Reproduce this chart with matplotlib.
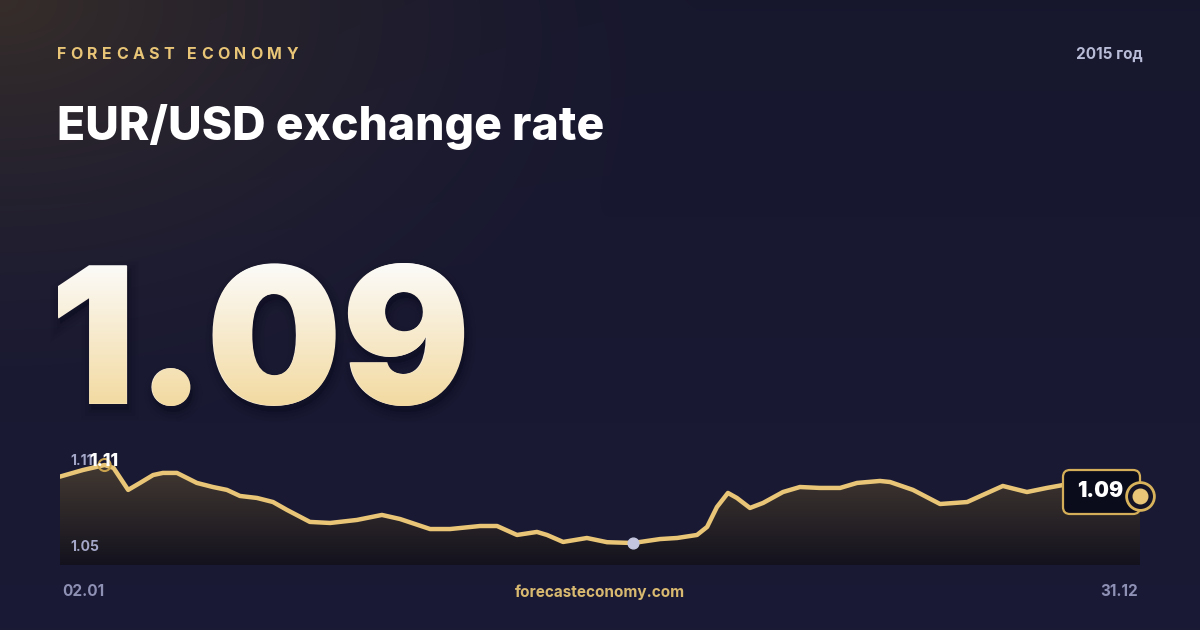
import numpy as np
import matplotlib
matplotlib.use("Agg")
from matplotlib import pyplot as plt
from matplotlib.textpath import TextPath
from matplotlib.font_manager import FontProperties
from matplotlib.patches import PathPatch, FancyBboxPatch
from matplotlib.transforms import Affine2D

# day of year (2015) and EUR/USD value
days = [2, 9.7, 17.0, 20.0, 24.9, 28.9, 33.3, 36.6, 41.3, 48.0, 53.4, 58.1, 62.5,
        68.2, 73.6, 78.3, 86.0, 92.8, 101.8, 110.2, 116.3, 126.4, 133.1, 143.2,
        148.9, 155.6, 162.3, 165.7, 171.1, 179.1, 185.9, 194.6, 203.7, 209.4,
        216.1, 219.5, 222.8, 226.5, 229.5, 233.9, 238.3, 245.0, 250.7, 257.4,
        264.2, 269.9, 277.6, 281.0, 288.7, 297.8, 306.9, 312.2, 318.9, 327.0,
        333.7, 339.1, 351.6, 365]
rates = [1.1004, 1.1054, 1.1092, 1.1070, 1.0903, 1.0956, 1.1016, 1.1032, 1.1032,
         1.0956, 1.0925, 1.0903, 1.0857, 1.0842, 1.0811, 1.0751, 1.0660, 1.0652,
         1.0675, 1.0713, 1.0682, 1.0606, 1.0606, 1.0629, 1.0629, 1.0561, 1.0584,
         1.0561, 1.0508, 1.0538, 1.0506, 1.0500, 1.0530, 1.0538, 1.0561, 1.0622,
         1.0773, 1.0880, 1.0842, 1.0766, 1.0804, 1.0887, 1.0925, 1.0918, 1.0918,
         1.0956, 1.0971, 1.0963, 1.0903, 1.0796, 1.0811, 1.0865, 1.0933, 1.0887,
         1.0918, 1.0940, 1.0925, 1.0857]

brand = "FORECAST ECONOMY"
title = "EUR/USD exchange rate"
year_label = "2015 год"
current = "1.09"
hi_label, lo_label = "1.11", "1.05"
start_label, end_label = "02.01", "31.12"
site = "forecasteconomy.com"

GOLD = "#e9c677"
W, H = 1200, 630

fig = plt.figure(figsize=(12, 6.3), dpi=100)
renderer = fig.canvas.get_renderer()

# background with warm glow in the top-left corner
bg = fig.add_axes([0, 0, 1, 1])
bg.set_xlim(0, W)
bg.set_ylim(H, 0)
bg.axis("off")
yy, xx = np.mgrid[0:H, 0:W]
r = np.sqrt(xx ** 2 + (yy * 1.6) ** 2)
g = np.clip(1 - r / 700, 0, 1) ** 1.6
base = np.array([0.090, 0.090, 0.180])
glow = np.array([0.215, 0.180, 0.165])
img = base[None, None, :] * (1 - g[..., None]) + glow[None, None, :] * g[..., None]
img += (yy[..., None] / H) * np.array([0.012, 0.012, 0.03])
bg.imshow(img, extent=[0, W, H, 0], aspect="auto", zorder=0)

# header: tracked-out brand name
x = 57
for ch in brand:
    t = bg.text(x, 59, ch, color=GOLD, fontsize=11.5, fontweight="bold",
                family="Inter", va="baseline", ha="left")
    w = t.get_window_extent(renderer).width if ch != " " else 4
    x += w + 4.4
bg.text(1143, 54, year_label, color="#b9bcd6", fontsize=11, fontweight="bold",
        family="Inter", va="center", ha="right")
bg.text(57, 140, title, color="white", fontsize=33.3, fontweight="heavy",
        family="Inter", va="baseline", ha="left")

# big number: real text, with a gradient image clipped to the same glyphs on top
fp = FontProperties(family="Inter", weight="black")
tp = TextPath((0, 0), current, size=1, prop=fp)
ext = tp.get_extents()
s = 143 / ext.height                       # pixels per em
pen_x = 58 - ext.x0 * s
base_y = 406 + ext.y0 * s
tr = Affine2D().scale(s, -s).translate(pen_x, base_y)
for lw, a in [(14, 0.06), (9, 0.08), (4, 0.12)]:
    sh = PathPatch(tp, transform=tr + Affine2D().translate(2, 6) + bg.transData,
                   facecolor="#08081a", edgecolor="#08081a", lw=lw, alpha=a, zorder=1)
    bg.add_patch(sh)
bg.text(pen_x, base_y, current, color="#f7eddb", fontsize=s * 0.72,
        fontproperties=fp, va="baseline", ha="left", zorder=2)
big = PathPatch(tp, transform=tr + bg.transData, facecolor="none", edgecolor="none")
bg.add_patch(big)
grad = np.linspace(0, 1, 256)[:, None]
top_c = np.array([0.99, 0.99, 0.99])
bot_c = np.array([0.95, 0.85, 0.62])
gimg = top_c * (1 - grad[..., None]) + bot_c * grad[..., None]
gi = bg.imshow(np.repeat(gimg, 2, axis=1), extent=[40, 500, 410, 258],
               aspect="auto", zorder=3)
gi.set_clip_path(big)

# footer
bg.text(62, 592, start_label, color="#8e90b4", fontsize=11, fontweight="bold",
        family="Inter", va="center", ha="left")
bg.text(1138, 592, end_label, color="#8e90b4", fontsize=11, fontweight="bold",
        family="Inter", va="center", ha="right")
bg.text(600, 592, site, color="#d8b96f", fontsize=11, fontweight="bold",
        family="Inter", va="center", ha="center")

# sparkline
ax = fig.add_axes([60 / W, (H - 565) / H, 1080 / W, 110 / H])
ax.set_xlim(2, 365)
ax.set_ylim(1.0333, 1.1168)
ax.axis("off")
ax.patch.set_alpha(0)
poly = ax.fill_between(days, rates, 1.0333, color="none", lw=0)
fgrad = np.linspace(0, 1, 256)[:, None]
ftop = np.array([0.27, 0.23, 0.20])
fbot = np.array([0.075, 0.07, 0.115])
fimg = ftop * (1 - fgrad[..., None]) + fbot * fgrad[..., None]
fi = ax.imshow(np.repeat(fimg, 2, axis=1), extent=[2, 365, 1.0333, 1.112],
               aspect="auto", zorder=1)
fi.set_clip_path(poly.get_paths()[0], ax.transData)
ax.plot(days, rates, color=GOLD, lw=3.2, zorder=3, solid_capstyle="round",
        solid_joinstyle="round")

i_max = int(np.argmax(rates))
i_min = int(np.argmin(rates))
ax.scatter([days[i_max]], [rates[i_max]], s=75, facecolor="none",
           edgecolor="#c9a24e", lw=1.5, zorder=4)
ax.scatter([days[i_min]], [rates[i_min]], s=60, color="#c3c6de", zorder=4)

# axis labels in the plot
for lbl, yp in [(hi_label, 461), (lo_label, 547)]:
    ax.text(70, yp, lbl, color="#a4a7c8", fontsize=10, fontweight="bold",
            family="Inter", va="center", ha="left", zorder=5,
            transform=bg.transData, clip_on=False)
ax.text(89, 461, hi_label, color="white", fontsize=12.5, fontweight="heavy",
        family="Inter", va="center", ha="left", zorder=5,
        transform=bg.transData, clip_on=False)

# current value box and end marker
box = FancyBboxPatch((1063, 470), 77, 44, boxstyle="round,pad=0,rounding_size=7",
                     facecolor="#0b0c1b", edgecolor="#d4ae58", lw=1.6, zorder=5,
                     transform=bg.transData, clip_on=False)
ax.add_patch(box)
ax.text(1100, 491, current, color="white", fontsize=15, fontweight="black",
        family="Inter", va="center", ha="center", zorder=8,
        transform=bg.transData, clip_on=False)
ax.scatter([days[-1]], [rates[-1]], s=400, facecolor="#141426",
           edgecolor="#d9b35c", lw=2, zorder=6, clip_on=False)
ax.scatter([days[-1]], [rates[-1]], s=110, color=GOLD, zorder=7, clip_on=False)

fig.savefig("out.png", dpi=100)
